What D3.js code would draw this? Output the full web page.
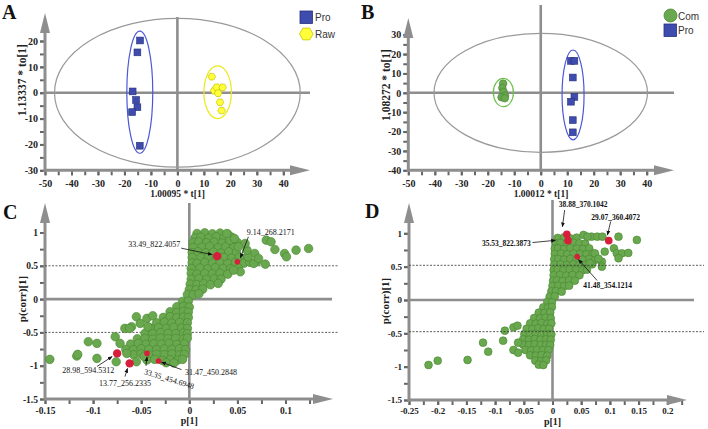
<!DOCTYPE html>
<html>
<head>
<meta charset="utf-8">
<script src="https://d3js.org/d3.v7.min.js"></script>
<style>
  body { margin: 0; background: #fff; }
</style>
</head>
<body>
<svg id="fig" width="708" height="429" style="background:#fff"></svg>
<script>
// ---------- data ----------
// score plots (A, B)
const scoreTicksX = [-50, -40, -30, -20, -10, 0, 10, 20, 30, 40];
const aTicksY = [-30, -20, -10, 0, 10, 20];
const bTicksY = [-40, -30, -20, -10, 0, 10, 20, 30];

const aPro = [[-14.1, 20.2], [-15.1, 15.6], [-16.9, 0.5], [-15.6, -2.8], [-15.1, -5.6], [-17.1, -7.5], [-14.2, -20.5]];
const aRaw = [[13.0, 6.2], [13.9, 0.8], [14.8, 2.1], [17.1, 2.1], [15.4, -0.2], [16.1, -3.7], [16.7, -6.9]];
const aT2 = [0, 0, 46.4, 28.75];          // cx, cy, rx, ry
const aProEllipse = [-14.2, 0.2, 4.9, 23.6];
const aRawEllipse = [15.2, 0.2, 5.2, 10.2];

const bCom = [[-14.2, 4.8], [-14.5, 2.5], [-14.0, 0.5], [-13.5, -1.5], [-14.8, -2.3], [-13.6, -2.8]];
const bPro = [[11.4, 16.5], [12.7, 16.5], [12.1, 7.9], [12.7, -2.1], [11.4, -4.6], [12.1, -14.1], [12.1, -20.4]];
const bT2 = [0, 0, 40.3, 30.7];
const bComEllipse = [-14.1, 0.15, 3.8, 7.3];
const bProEllipse = [12.2, -1.1, 4.15, 23.2];

// S-plots (C, D)
const cTicksX = [-0.15, -0.1, -0.05, 0, 0.05, 0.1];
const dTicksX = [-0.25, -0.2, -0.15, -0.1, -0.05, 0, 0.05, 0.1, 0.15, 0.2];
const sTicksY = [-1.5, -1, -0.5, 0, 0.5, 1];
const cCutoffs = [0.5, -0.5];
const dCutoffs = [0.52, -0.475];

const cPoints = [
  // upper branch
  [0.008,0.985],[0.016,0.995],[0.024,0.98],[0.032,0.99],[0.040,0.975],
  [0.006,0.92],[0.012,0.93],[0.020,0.915],[0.028,0.935],[0.036,0.92],[0.044,0.93],
  [0.004,0.85],[0.010,0.86],[0.018,0.845],[0.026,0.855],[0.034,0.84],[0.042,0.86],[0.050,0.85],
  [0.004,0.775],[0.013,0.78],[0.021,0.79],[0.030,0.77],[0.038,0.785],[0.046,0.775],
  [0.003,0.70],[0.009,0.71],[0.017,0.695],[0.025,0.705],[0.033,0.69],[0.041,0.71],[0.049,0.70],
  [0.003,0.625],[0.012,0.62],[0.020,0.63],[0.028,0.615],[0.036,0.625],[0.044,0.615],[0.052,0.63],[0.058,0.605],
  [0.003,0.545],[0.008,0.535],[0.016,0.55],[0.024,0.54],[0.032,0.545],[0.040,0.535],[0.048,0.55],[0.057,0.54],[0.063,0.555],
  [0.002,0.46],[0.011,0.465],[0.019,0.455],[0.027,0.47],[0.035,0.46],[0.043,0.455],[0.051,0.465],
  [0.002,0.385],[0.008,0.375],[0.016,0.385],[0.024,0.38],[0.032,0.39],[0.040,0.375],
  [0.002,0.30],[0.010,0.31],[0.018,0.295],[0.026,0.305],[0.033,0.30],
  [0.001,0.225],[0.008,0.22],[0.015,0.23],[0.022,0.215],
  [0.000,0.145],[0.007,0.14],[0.014,0.15],
  [-0.002,0.07],[0.004,0.065],[0.010,0.08],
  // sparse upper right
  [0.080,0.885],[0.085,0.86],[0.099,0.685],[0.101,0.635],[0.111,0.735],[0.124,0.76],[0.089,0.745],
  [0.079,0.525],[0.070,0.56],[0.068,0.685],[0.061,0.635],[0.060,0.735],[0.053,0.41],[0.046,0.435],
  [0.030,0.235],[0.042,0.885],[0.047,0.91],[0.058,0.835],[0.039,0.985],[0.051,0.785],[0.067,0.535],[0.072,0.61],
  // lower branch
  [-0.007,-0.035],[-0.001,-0.03],
  [-0.013,-0.115],[-0.006,-0.11],[0.000,-0.12],
  [-0.020,-0.19],[-0.013,-0.20],[-0.006,-0.185],[-0.001,-0.195],
  [-0.027,-0.275],[-0.020,-0.265],[-0.013,-0.28],[-0.006,-0.27],[-0.001,-0.275],
  [-0.034,-0.355],[-0.026,-0.345],[-0.018,-0.36],[-0.010,-0.35],[-0.002,-0.355],
  [-0.040,-0.435],[-0.032,-0.43],[-0.024,-0.44],[-0.016,-0.425],[-0.008,-0.435],[-0.002,-0.44],
  [-0.046,-0.515],[-0.038,-0.52],[-0.030,-0.505],[-0.022,-0.515],[-0.014,-0.52],[-0.006,-0.51],[-0.002,-0.52],
  [-0.054,-0.595],[-0.046,-0.59],[-0.038,-0.60],[-0.030,-0.585],[-0.022,-0.595],[-0.014,-0.59],[-0.006,-0.60],[-0.002,-0.585],
  [-0.061,-0.675],[-0.053,-0.665],[-0.045,-0.68],[-0.037,-0.67],[-0.029,-0.675],[-0.021,-0.665],[-0.013,-0.68],[-0.005,-0.67],
  [-0.066,-0.755],[-0.058,-0.76],[-0.050,-0.745],[-0.042,-0.755],[-0.034,-0.76],[-0.026,-0.75],[-0.018,-0.755],[-0.010,-0.745],[-0.004,-0.76],
  [-0.058,-0.835],[-0.050,-0.825],[-0.042,-0.84],[-0.034,-0.83],[-0.026,-0.835],[-0.018,-0.825],[-0.010,-0.84],[-0.005,-0.83],
  [-0.044,-0.915],[-0.036,-0.905],[-0.028,-0.92],[-0.020,-0.91],[-0.012,-0.915],[-0.007,-0.905],
  [-0.024,-0.955],[-0.016,-0.96],
  // sparse lower left
  [-0.145,-0.905],[-0.117,-0.855],[-0.116,-0.83],[-0.105,-0.64],[-0.096,-0.665],[-0.096,-0.89],
  [-0.077,-0.565],[-0.072,-0.665],[-0.067,-0.44],[-0.060,-0.415],[-0.055,-0.265],[-0.044,-0.29],
  [-0.051,-0.365],[-0.043,-0.415],[-0.062,-0.44],[-0.076,-0.94],[-0.055,-0.94],[-0.065,-0.815],
  [-0.047,-0.86],[-0.038,-0.25]
];
const cMarked = [
  { id: "33.49_822.4057", x: 0.029, y: 0.645 },
  { id: "9.14_268.2171", x: 0.050, y: 0.56 },
  { id: "28.98_594.5312", x: -0.075, y: -0.815 },
  { id: "13.77_256.2335", x: -0.062, y: -0.965 },
  { id: "33.35_454.6948", x: -0.044, y: -0.815 },
  { id: "31.47_450.2848", x: -0.032, y: -0.93 }
];

const dPoints = [
  // upper branch
  [0.009,0.93],[0.020,0.94],[0.031,0.925],[0.042,0.935],
  [0.006,0.85],[0.014,0.855],[0.025,0.845],[0.036,0.86],[0.047,0.85],[0.057,0.845],
  [0.004,0.77],[0.010,0.775],[0.020,0.765],[0.031,0.78],[0.042,0.77],[0.053,0.765],[0.064,0.775],
  [0.004,0.69],[0.015,0.695],[0.026,0.685],[0.037,0.695],[0.048,0.69],[0.059,0.685],[0.070,0.695],
  [0.003,0.61],[0.010,0.615],[0.020,0.605],[0.031,0.615],[0.042,0.61],[0.053,0.605],[0.064,0.615],[0.074,0.60],
  [0.003,0.53],[0.014,0.535],[0.025,0.525],[0.036,0.535],[0.047,0.53],[0.058,0.525],[0.069,0.535],
  [0.002,0.45],[0.009,0.455],[0.019,0.445],[0.030,0.455],[0.041,0.45],[0.052,0.445],[0.060,0.455],
  [0.002,0.37],[0.013,0.375],[0.024,0.365],[0.035,0.375],[0.047,0.37],
  [0.001,0.29],[0.008,0.295],[0.018,0.285],[0.029,0.295],[0.039,0.29],
  [0.000,0.21],[0.010,0.215],[0.020,0.205],[0.029,0.215],
  [-0.002,0.13],[0.006,0.135],[0.016,0.125],
  [-0.005,0.05],[0.004,0.055],
  // sparse upper right
  [0.054,0.975],[0.068,0.95],[0.078,0.95],[0.087,0.95],[0.115,0.95],[0.147,0.90],[0.107,0.775],
  [0.091,0.725],[0.112,0.70],[0.121,0.70],[0.132,0.705],[0.115,0.625],[0.074,0.70],[0.086,0.575],
  [0.065,0.55],[0.086,0.50],[0.061,0.95],[0.080,0.62],
  // lower branch
  [-0.009,-0.03],[-0.001,-0.035],
  [-0.016,-0.11],[-0.008,-0.115],[-0.001,-0.105],
  [-0.024,-0.19],[-0.014,-0.195],[-0.004,-0.185],
  [-0.032,-0.27],[-0.022,-0.275],[-0.012,-0.265],[-0.003,-0.275],
  [-0.039,-0.35],[-0.029,-0.355],[-0.019,-0.345],[-0.009,-0.355],[-0.002,-0.35],
  [-0.045,-0.43],[-0.035,-0.435],[-0.025,-0.425],[-0.015,-0.435],[-0.006,-0.43],
  [-0.049,-0.51],[-0.039,-0.515],[-0.029,-0.505],[-0.019,-0.515],[-0.009,-0.51],[-0.002,-0.515],
  [-0.051,-0.59],[-0.041,-0.595],[-0.031,-0.585],[-0.021,-0.595],[-0.011,-0.59],[-0.003,-0.595],
  [-0.051,-0.67],[-0.041,-0.675],[-0.031,-0.665],[-0.021,-0.675],[-0.011,-0.67],[-0.004,-0.675],
  [-0.047,-0.75],[-0.037,-0.755],[-0.027,-0.745],[-0.017,-0.755],[-0.007,-0.75],
  [-0.039,-0.83],[-0.029,-0.835],[-0.019,-0.825],[-0.009,-0.835],
  [-0.030,-0.91],[-0.020,-0.915],[-0.011,-0.905],
  [-0.024,-0.97],[-0.016,-0.975],
  // sparse lower left
  [-0.216,-0.975],[-0.200,-0.91],[-0.148,-0.90],[-0.121,-0.64],[-0.112,-0.775],[-0.086,-0.61],
  [-0.083,-0.46],[-0.068,-0.41],[-0.061,-0.385],[-0.068,-0.75],[-0.060,-0.79],[-0.060,-0.64]
];
const dMarked = [
  { id: "38.88_370.1042", x: 0.025, y: 0.985 },
  { id: "35.53_822.3873", x: 0.027, y: 0.89 },
  { id: "29.07_360.4072", x: 0.098, y: 0.89 },
  { id: "41.48_354.1214", x: 0.043, y: 0.65 }
];

// ---------- drawing ----------
const svg = d3.select("#fig");
const serif = "'Liberation Serif', 'Times New Roman', serif";
const sans = "'Liberation Sans', Arial, sans-serif";
const grey = "#8e8e8e";
const blue = "#3e4cae", blueEdge = "#27317a";
const yellow = "#ffff3a", yellowEdge = "#c9c400";
const green = "#6aa84f", greenEdge = "#47862f";
const red = "#d71f3b";

svg.append("defs").append("marker")
  .attr("id", "arr").attr("viewBox", "0 0 10 10")
  .attr("refX", 9).attr("refY", 5)
  .attr("markerWidth", 6).attr("markerHeight", 6)
  .attr("orient", "auto")
  .append("path").attr("d", "M0,1 L10,5 L0,9 Z").attr("fill", "#111");

function styleAxis(g, size) {
  g.select(".domain").remove();
  g.attr("font-family", serif).attr("font-weight", "bold").attr("font-size", size);
  g.selectAll(".tick line").attr("stroke", "#666").attr("stroke-width", 2);
  g.selectAll(".tick text").attr("fill", "#222");
}

function frame(o) {
  const g = svg.append("g");
  const left = o.x.range()[0], bottom = o.y.range()[0];
  const fmt = d => String(d);

  g.append("g").attr("transform", `translate(0,${bottom + 1})`)
    .call(d3.axisBottom(o.x).tickValues(o.xMinor).tickSize(4).tickFormat(""))
    .call(a => styleAxis(a, o.tickSize));
  g.append("g").attr("transform", `translate(0,${bottom + 1})`)
    .call(d3.axisBottom(o.x).tickValues(o.xTicks).tickSize(4).tickPadding(o.xPad).tickFormat(fmt))
    .call(a => styleAxis(a, o.tickSize));
  g.append("g").attr("transform", `translate(${left - 1},0)`)
    .call(d3.axisLeft(o.y).tickValues(o.yMinor).tickSize(4).tickFormat(""))
    .call(a => styleAxis(a, o.tickSize));
  g.append("g").attr("transform", `translate(${left - 1},0)`)
    .call(d3.axisLeft(o.y).tickValues(o.yTicks).tickSize(4).tickPadding(2).tickFormat(fmt))
    .call(a => styleAxis(a, o.tickSize));

  // zero lines
  g.append("line").attr("x1", o.x(0)).attr("x2", o.x(0)).attr("y1", o.zeroTop).attr("y2", bottom)
    .attr("stroke", grey).attr("stroke-width", 2.6);
  g.append("line").attr("x1", left).attr("x2", o.zeroRight).attr("y1", o.y(0)).attr("y2", o.y(0))
    .attr("stroke", grey).attr("stroke-width", 2.6);

  // axes with arrow heads
  g.append("line").attr("x1", left).attr("x2", o.xTip - 18).attr("y1", bottom).attr("y2", bottom)
    .attr("stroke", grey).attr("stroke-width", 3);
  g.append("line").attr("x1", left).attr("x2", left).attr("y1", bottom + 1.5).attr("y2", o.yTip + 18)
    .attr("stroke", grey).attr("stroke-width", 3);
  g.append("path").attr("d", `M${o.xTip},${bottom} L${o.xTip - 20},${bottom - 5} L${o.xTip - 20},${bottom + 5}Z`)
    .attr("fill", grey);
  g.append("path").attr("d", `M${left},${o.yTip} L${left - 5},${o.yTip + 20} L${left + 5},${o.yTip + 20}Z`)
    .attr("fill", grey);

  // titles
  g.append("text").attr("x", o.xTitle[0]).attr("y", o.xTitle[1]).attr("text-anchor", "middle")
    .attr("font-family", serif).attr("font-weight", "bold").attr("font-size", o.xTitleSize)
    .attr("fill", "#222").text(o.xLabel);
  g.append("text").attr("transform", `translate(${o.yTitle[0]},${o.yTitle[1]}) rotate(-90)`)
    .attr("text-anchor", "middle").attr("dy", "0.35em")
    .attr("font-family", serif).attr("font-weight", "bold").attr("font-size", o.yTitleSize)
    .attr("fill", "#222").text(o.yLabel);
  g.append("text").attr("x", o.letter[0]).attr("y", o.letter[1])
    .attr("font-family", serif).attr("font-weight", "bold").attr("font-size", 20)
    .attr("fill", "#111").text(o.letter[2]);
  return g;
}

function ellipse(g, x, y, e, color, w) {
  g.append("ellipse")
    .attr("cx", x(e[0])).attr("cy", y(e[1]))
    .attr("rx", x(e[0] + e[2]) - x(e[0])).attr("ry", y(e[1]) - y(e[1] + e[3]))
    .attr("fill", "none").attr("stroke", color).attr("stroke-width", w);
}

function hexPath(cx, cy, r) {
  const pts = d3.range(6).map(i => {
    const a = Math.PI / 3 * i;
    return [cx + r * Math.cos(a), cy + r * Math.sin(a)];
  });
  return "M" + pts.map(p => p.join(",")).join("L") + "Z";
}

// ---- Panel A ----
const xA = d3.scaleLinear().domain([-50, 40]).range([45, 283.3]);
const yA = d3.scaleLinear().domain([-30, 20]).range([170.3, 41]);
const gA = frame({
  x: xA, y: yA, xTicks: scoreTicksX, yTicks: aTicksY,
  xMinor: d3.range(-50, 41, 5), yMinor: d3.range(-30, 21, 5),
  tickSize: 10, xPad: 5, zeroTop: 17, zeroRight: 310, xTip: 310, yTip: 13,
  xLabel: "1.00095 * t[1]", xTitle: [177.5, 197], xTitleSize: 9.5,
  yLabel: "1.13337 * to[1]", yTitle: [22, 80], yTitleSize: 11.5,
  letter: [2, 19, "A"]
});
ellipse(gA, xA, yA, aT2, "#999", 1.2);
ellipse(gA, xA, yA, aProEllipse, "#4b57d6", 1.2);
ellipse(gA, xA, yA, aRawEllipse, "#eaea1a", 1.2);
gA.append("g").selectAll("rect").data(aPro).enter().append("rect")
  .attr("x", d => xA(d[0]) - 3.4).attr("y", d => yA(d[1]) - 3.4)
  .attr("width", 6.8).attr("height", 6.8)
  .attr("fill", blue).attr("stroke", blueEdge).attr("stroke-width", 0.6);
gA.append("g").selectAll("path").data(aRaw).enter().append("path")
  .attr("d", d => hexPath(xA(d[0]), yA(d[1]), 3.8))
  .attr("fill", yellow).attr("stroke", yellowEdge).attr("stroke-width", 0.7);
// legend A
gA.append("rect").attr("x", 300).attr("y", 11).attr("width", 12.5).attr("height", 12.5)
  .attr("fill", blue).attr("stroke", blueEdge).attr("stroke-width", 0.8);
gA.append("text").attr("x", 315).attr("y", 21).attr("font-family", sans).attr("font-size", 10)
  .attr("fill", "#333").text("Pro");
gA.append("path").attr("d", hexPath(306.3, 34, 6.8))
  .attr("fill", yellow).attr("stroke", yellowEdge).attr("stroke-width", 0.8);
gA.append("text").attr("x", 315).attr("y", 37.5).attr("font-family", sans).attr("font-size", 10)
  .attr("fill", "#333").text("Raw");

// ---- Panel B ----
const xB = d3.scaleLinear().domain([-50, 40]).range([408.3, 646.7]);
const yB = d3.scaleLinear().domain([-40, 30]).range([170.3, 34.7]);
const gB = frame({
  x: xB, y: yB, xTicks: scoreTicksX, yTicks: bTicksY,
  xMinor: d3.range(-50, 41, 5), yMinor: d3.range(-40, 31, 5),
  tickSize: 10, xPad: 5, zeroTop: 5, zeroRight: 674, xTip: 674, yTip: 18,
  xLabel: "1.00012 * t[1]", xTitle: [541, 197], xTitleSize: 9.5,
  yLabel: "1.08272 * to[1]", yTitle: [385.5, 85], yTitleSize: 11.5,
  letter: [361, 19, "B"]
});
ellipse(gB, xB, yB, bT2, "#999", 1.2);
ellipse(gB, xB, yB, bComEllipse, "#6cc04a", 1.2);
ellipse(gB, xB, yB, bProEllipse, "#4b57d6", 1.2);
gB.append("g").selectAll("circle").data(bCom).enter().append("circle")
  .attr("cx", d => xB(d[0])).attr("cy", d => yB(d[1])).attr("r", 3.8)
  .attr("fill", green).attr("stroke", greenEdge).attr("stroke-width", 0.6);
gB.append("g").selectAll("rect").data(bPro).enter().append("rect")
  .attr("x", d => xB(d[0]) - 3.4).attr("y", d => yB(d[1]) - 3.4)
  .attr("width", 6.8).attr("height", 6.8)
  .attr("fill", blue).attr("stroke", blueEdge).attr("stroke-width", 0.6);
// legend B
gB.append("circle").attr("cx", 670.5).attr("cy", 15.5).attr("r", 6.5)
  .attr("fill", green).attr("stroke", greenEdge).attr("stroke-width", 0.8);
gB.append("text").attr("x", 678).attr("y", 19.5).attr("font-family", sans).attr("font-size", 10)
  .attr("fill", "#333").text("Com");
gB.append("rect").attr("x", 664).attr("y", 24).attr("width", 12.5).attr("height", 12.5)
  .attr("fill", blue).attr("stroke", blueEdge).attr("stroke-width", 0.8);
gB.append("text").attr("x", 678).attr("y", 33.5).attr("font-family", sans).attr("font-size", 10)
  .attr("fill", "#333").text("Pro");

// ---- S-plot helper ----
function cutoffLines(g, x, y, cuts, x1, x2) {
  g.append("g").selectAll("line").data(cuts).enter().append("line")
    .attr("x1", x1).attr("x2", x2).attr("y1", d => y(d)).attr("y2", d => y(d))
    .attr("stroke", "#333").attr("stroke-width", 0.8).attr("stroke-dasharray", "2,1.5");
}

function annotate(g, x, y, marks, notes, weight, size) {
  marks.forEach(m => {
    const n = notes[m.id];
    const px = x(m.x), py = y(m.y);
    g.append("line")
      .attr("x1", px + n.line[0]).attr("y1", py + n.line[1])
      .attr("x2", px + n.line[2]).attr("y2", py + n.line[3])
      .attr("stroke", "#111").attr("stroke-width", 0.8).attr("marker-end", "url(#arr)");
    const tx = px + n.text[0], ty = py + n.text[1];
    g.append("text")
      .attr("transform", `translate(${tx},${ty}) rotate(${n.rot || 0})`)
      .attr("text-anchor", n.anchor)
      .attr("font-family", serif).attr("font-weight", weight).attr("font-size", size)
      .attr("fill", "#111").text(m.id);
  });
}

// ---- Panel C ----
const xC = d3.scaleLinear().domain([-0.15, 0.1]).range([45, 285.5]);
const yC = d3.scaleLinear().domain([-1.5, 1]).range([399, 232.5]);
const gC = frame({
  x: xC, y: yC, xTicks: cTicksX, yTicks: sTicksY,
  xMinor: d3.range(-0.15, 0.1251, 0.025), yMinor: d3.range(-1.5, 1.01, 0.25),
  tickSize: 9.5, xPad: 3, zeroTop: 203, zeroRight: 332, xTip: 333, yTip: 203,
  xLabel: "p[1]", xTitle: [189.3, 424], xTitleSize: 10,
  yLabel: "p(corr)[1]", yTitle: [22, 299], yTitleSize: 11,
  letter: [3, 219, "C"]
});
cutoffLines(gC, xC, yC, cCutoffs, 45, 338);
gC.append("g").selectAll("circle").data(cPoints).enter().append("circle")
  .attr("cx", d => xC(d[0])).attr("cy", d => yC(d[1])).attr("r", 4.3)
  .attr("fill", green).attr("stroke", greenEdge).attr("stroke-width", 0.6);
const cBig = new Set(["33.49_822.4057", "28.98_594.5312", "13.77_256.2335"]);
gC.append("g").selectAll("circle").data(cMarked).enter().append("circle")
  .attr("cx", d => xC(d.x)).attr("cy", d => yC(d.y)).attr("r", d => cBig.has(d.id) ? 4.2 : 2.8)
  .attr("fill", red);
annotate(gC, xC, yC, cMarked, {
  "33.49_822.4057": { text: [-37, -9], anchor: "end", line: [-36, -8, -5, -1.5] },
  "9.14_268.2171": { text: [9.3, -26.7], anchor: "start", line: [11, -25, 3, -4] },
  "28.98_594.5312": { text: [-29, 19.7], anchor: "middle", line: [-20, 13, -5, 3.2] },
  "13.77_256.2335": { text: [-4.7, 22.7], anchor: "middle", line: [-4.7, 13.2, -2.2, 5] },
  "33.35_454.6948": { text: [-3.5, 20.5], anchor: "start", rot: 17, line: [-1, 12.5, 0, 3.5] },
  "31.47_450.2848": { text: [26.5, 14.3], anchor: "start", line: [23, 8.6, 3, 1.1] }
}, "normal", 8);

// ---- Panel D ----
const xD = d3.scaleLinear().domain([-0.25, 0.2]).range([409, 667.3]);
const yD = d3.scaleLinear().domain([-1.5, 1]).range([400, 233.3]);
const gD = frame({
  x: xD, y: yD, xTicks: dTicksX, yTicks: sTicksY,
  xMinor: d3.range(-0.25, 0.2251, 0.025), yMinor: d3.range(-1.5, 1.01, 0.25),
  tickSize: 9, xPad: 3, zeroTop: 200, zeroRight: 694, xTip: 687, yTip: 203,
  xLabel: "p[1]", xTitle: [552.5, 425], xTitleSize: 10,
  yLabel: "p(corr)[1]", yTitle: [385, 301], yTitleSize: 11,
  letter: [365, 218, "D"]
});
gD.append("g").selectAll("circle").data(dPoints).enter().append("circle")
  .attr("cx", d => xD(d[0])).attr("cy", d => yD(d[1])).attr("r", 3.9)
  .attr("fill", green).attr("stroke", greenEdge).attr("stroke-width", 0.6);
cutoffLines(gD, xD, yD, dCutoffs, 409, 704);
const dBig = new Set(["38.88_370.1042", "35.53_822.3873", "29.07_360.4072"]);
gD.append("g").selectAll("circle").data(dMarked).enter().append("circle")
  .attr("cx", d => xD(d.x)).attr("cy", d => yD(d.y)).attr("r", d => dBig.has(d.id) ? 3.8 : 2.8)
  .attr("fill", red);
annotate(gD, xD, yD, dMarked, {
  "38.88_370.1042": { text: [-8, -27.3], anchor: "start", line: [-2.2, -24.3, -4.4, -7.5] },
  "35.53_822.3873": { text: [-37.3, 5.4], anchor: "end", line: [-35.5, 1.9, -12.5, -0.3] },
  "29.07_360.4072": { text: [-17.5, -21.1], anchor: "start", line: [1.9, -19.1, -1.3, -5.6] },
  "41.48_354.1214": { text: [6.1, 30.9], anchor: "start", line: [20, 23.9, 1.3, 2.9] }
}, "bold", 7.5);
</script>
</body>
</html>
